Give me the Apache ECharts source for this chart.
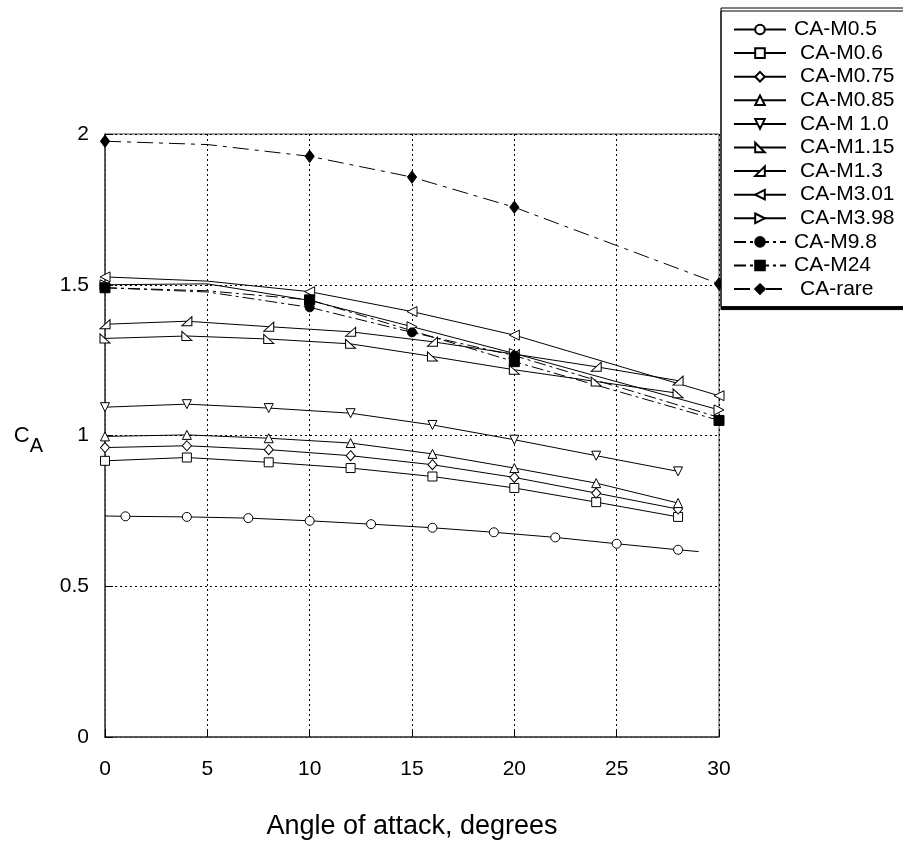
<!DOCTYPE html>
<html><head><meta charset="utf-8">
<script src="https://cdn.jsdelivr.net/npm/echarts@6/dist/echarts.min.js"></script>
<style>html,body{margin:0;padding:0;background:#fff}#c{width:903px;height:845px}</style>
</head><body><div id="c"></div>
<script>
// ---- data (angle of attack, degrees  ->  C_A) ----
const xTicks = [0, 5, 10, 15, 20, 25, 30];
const yTicks = [0, 0.5, 1, 1.5, 2];

const xM05 = [0, 1, 4, 7, 10, 13, 16, 19, 22, 25, 28, 29];
const yM05 = [0.733, 0.732, 0.730, 0.726, 0.717, 0.706, 0.694, 0.679, 0.662, 0.641, 0.621, 0.615];
const plainM05 = [0, 29];

const x4 = [0, 4, 8, 12, 16, 20, 24, 28];
const yM06  = [0.916, 0.927, 0.911, 0.892, 0.864, 0.826, 0.779, 0.730];
const yM075 = [0.960, 0.966, 0.953, 0.933, 0.903, 0.861, 0.809, 0.756];
const yM085 = [0.997, 1.002, 0.991, 0.975, 0.939, 0.892, 0.842, 0.776];
const yM10  = [1.094, 1.104, 1.091, 1.074, 1.035, 0.986, 0.933, 0.881];
const yM115 = [1.322, 1.330, 1.320, 1.304, 1.262, 1.218, 1.179, 1.140];
const yM13  = [1.369, 1.379, 1.361, 1.344, 1.311, 1.270, 1.228, 1.182];

const xHi = [0, 5, 10, 15, 20, 30];
const yM301 = [1.526, 1.512, 1.477, 1.411, 1.333, 1.132];
const yM398 = [1.500, 1.503, 1.448, 1.361, 1.272, 1.085];
const yM98  = [1.490, 1.476, 1.425, 1.342, 1.265, 1.060];
const plainHi = [5];
const plainM98 = [5, 30];

const xM24 = [0, 5, 10, 20, 30];
const yM24 = [1.490, 1.480, 1.450, 1.245, 1.050];
const plainM24 = [5];

const xRare = [0, 5, 10, 15, 20, 30];
const yRare = [1.976, 1.965, 1.926, 1.857, 1.757, 1.503];
const plainRare = [5];

const names = ['CA-M0.5', 'CA-M0.6', 'CA-M0.75', 'CA-M0.85', 'CA-M 1.0', 'CA-M1.15',
               'CA-M1.3', 'CA-M3.01', 'CA-M3.98', 'CA-M9.8', 'CA-M24', 'CA-rare'];
const shiftedNames = ['CA-M0.6', 'CA-M0.75', 'CA-M0.85', 'CA-M 1.0', 'CA-M1.15',
                      'CA-M1.3', 'CA-M3.01', 'CA-M3.98', 'CA-rare'];

// ---- build ----
const FONT = '"Liberation Sans", Arial, sans-serif';
function pts(xs, ys, plain) {
  return xs.map((x, i) => plain.includes(x) ? { value: [x, ys[i]], symbol: 'none' } : [x, ys[i]]);
}
function mk(name, data, symbol, size, filled, dash) {
  return {
    name, type: 'line', data, symbol, symbolSize: size,
    itemStyle: { color: filled ? '#000' : '#fff', borderColor: '#000', borderWidth: 1 },
    lineStyle: { color: '#000', width: 1, type: dash || 'solid' },
    emphasis: { disabled: true }, silent: true, animation: false
  };
}
const dashM = [12, 4, 3, 4];
const dashR = [16, 6, 4, 6];
const series = [
  mk(names[0], pts(xM05, yM05, plainM05), 'circle', 9, false),
  mk(names[1], pts(x4, yM06, []), 'rect', 9, false),
  mk(names[2], pts(x4, yM075, []), 'diamond', [9, 10], false),
  mk(names[3], pts(x4, yM085, []), 'triangle', [9, 9], false),
  mk(names[4], pts(x4, yM10, []), 'path://M0,0L10,0L5,10Z', [9, 9], false),
  mk(names[5], pts(x4, yM115, []), 'path://M0,0L0,10L10,10Z', [10, 9], false),
  mk(names[6], pts(x4, yM13, []), 'path://M10,0L10,10L0,10Z', [10, 9], false),
  mk(names[7], pts(xHi, yM301, plainHi), 'path://M10,0L0,5L10,10Z', [10, 10], false),
  mk(names[8], pts(xHi, yM398, plainHi), 'path://M0,0L10,5L0,10Z', [10, 10], false),
  mk(names[9], pts(xHi, yM98, plainM98), 'circle', 9, true, dashM),
  mk(names[10], pts(xM24, yM24, plainM24), 'rect', 10, true, dashM),
  mk(names[11], pts(xRare, yRare, plainRare), 'diamond', [9, 12], true, dashR)
];

const chart = echarts.init(document.getElementById('c'), null, { renderer: 'canvas' });
chart.setOption({
  backgroundColor: '#fff',
  animation: false,
  grid: { left: 105, right: 184, top: 134, bottom: 107, show: true, borderColor: '#444', borderWidth: 1, backgroundColor: 'transparent' },
  xAxis: {
    type: 'value', min: xTicks[0], max: xTicks[xTicks.length - 1], interval: 5,
    name: 'Angle of attack, degrees', nameLocation: 'middle', nameGap: 76,
    nameTextStyle: { fontFamily: FONT, fontSize: 27, color: '#000' },
    axisLine: { lineStyle: { color: '#444', width: 1.5 } },
    axisTick: { inside: true, length: 8, lineStyle: { color: '#000' } },
    axisLabel: { fontFamily: FONT, fontSize: 21, color: '#000', margin: 22 },
    splitLine: { show: true, lineStyle: { color: '#000', type: [2, 3], width: 1 } }
  },
  yAxis: {
    type: 'value', min: yTicks[0], max: yTicks[yTicks.length - 1], interval: 0.5,
    name: '{c|C}{a|A}', nameLocation: 'middle', nameGap: 62, nameRotate: 0,
    nameTextStyle: {
      rich: {
        c: { fontFamily: FONT, fontSize: 22, color: '#000', lineHeight: 22 },
        a: { fontFamily: FONT, fontSize: 20, color: '#000', lineHeight: 20, padding: [22, 0, 0, 0] }
      }
    },
    axisLine: { lineStyle: { color: '#444', width: 1.5 } },
    axisTick: { inside: true, length: 8, lineStyle: { color: '#000' } },
    axisLabel: { fontFamily: FONT, fontSize: 21, color: '#000', margin: 16 },
    splitLine: { show: true, lineStyle: { color: '#000', type: [2, 3], width: 1 } }
  },
  legend: {
    orient: 'vertical', left: 721, top: 8,
    itemWidth: 52, itemHeight: 12, itemGap: 2.6,
    padding: [11, 40, 7, 12],
    backgroundColor: '#fff', borderColor: '#000', borderWidth: 1,
    shadowColor: '#000', shadowBlur: 0, shadowOffsetX: 0, shadowOffsetY: 3,
    selectedMode: false,
    data: names,
    formatter: n => (shiftedNames.includes(n) ? '{s|' + n + '}' : '{n|' + n + '}'),
    textStyle: {
      fontFamily: FONT, fontSize: 21, color: '#000', lineHeight: 21,
      rich: {
        n: { fontFamily: FONT, fontSize: 21, color: '#000', lineHeight: 21, padding: [0, 0, 0, 3] },
        s: { fontFamily: FONT, fontSize: 21, color: '#000', lineHeight: 21, padding: [0, 0, 0, 9] }
      }
    }
  },
  series
});
</script></body></html>
